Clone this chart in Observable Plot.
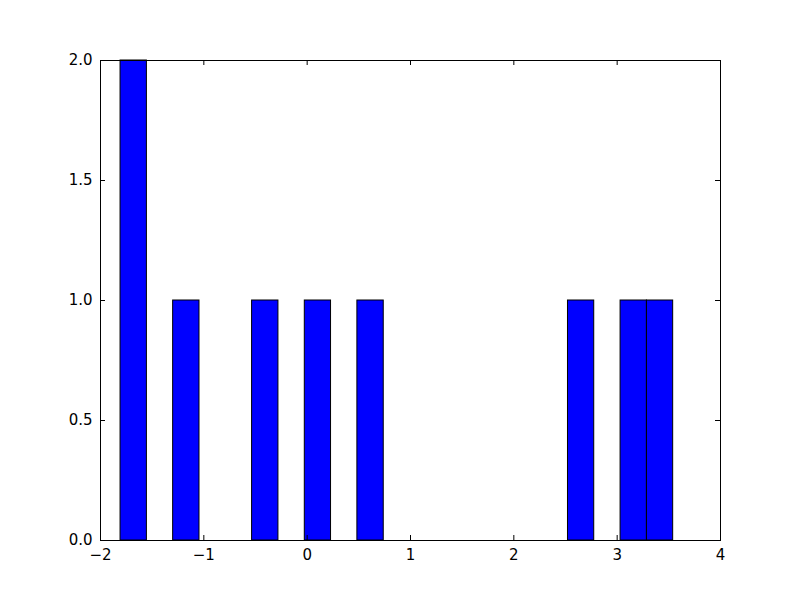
<!DOCTYPE html>
<html>
<head>
<meta charset="utf-8">
<script src="https://cdn.jsdelivr.net/npm/d3@7"></script>
<script src="https://cdn.jsdelivr.net/npm/@observablehq/plot@0.6"></script>
<style>
  html, body { margin: 0; padding: 0; background: white; }
</style>
</head>
<body>
<div id="chart"></div>
<script>
// Histogram bin edges (21 equal-width bins)
const binEdges = [-1.806, -1.551, -1.297, -1.042, -0.787, -0.533, -0.278, -0.023, 0.231, 0.486, 0.741,
                  0.996, 1.250, 1.505, 1.760, 2.014, 2.269, 2.524, 2.778, 3.033, 3.288, 3.542];
// Counts per bin
const counts = [2, 0, 1, 0, 0, 1, 0, 1, 0, 1, 0, 0, 0, 0, 0, 0, 0, 1, 0, 1, 1];
// Tick values
const xTicks = [-2, -1, 0, 1, 2, 3, 4];
const yTicks = [0, 0.5, 1.0, 1.5, 2.0];

const bins = counts.map((c, i) => ({x1: binEdges[i], x2: binEdges[i + 1], count: c}));

const W = 800, H = 600, mL = 100, mR = 80, mT = 60, mB = 60;
const innerH = H - mT - mB, innerW = W - mL - mR;
const tick = 5;

const chart = Plot.plot({
  width: W,
  height: H,
  marginLeft: mL,
  marginRight: mR,
  marginTop: mT,
  marginBottom: mB,
  style: {fontFamily: "DejaVu Sans", fontSize: "15px", background: "white", color: "black"},
  x: {domain: [-2, 4]},
  y: {domain: [0, 2]},
  marks: [
    Plot.rectY(bins, {x1: "x1", x2: "x2", y: "count", fill: "#0000ff", stroke: "black", strokeWidth: 1, inset: 0}),
    // inward ticks: bottom/top and left/right
    Plot.ruleX(xTicks, {insetTop: innerH - tick, stroke: "black"}),
    Plot.ruleX(xTicks, {insetBottom: innerH - tick, stroke: "black"}),
    Plot.ruleY(yTicks, {insetRight: innerW - tick, stroke: "black"}),
    Plot.ruleY(yTicks, {insetLeft: innerW - tick, stroke: "black"}),
    Plot.axisX(xTicks, {anchor: "bottom", tickSize: 0, tickPadding: 9, label: null, fontSize: 15}),
    Plot.axisY(yTicks, {anchor: "left", tickSize: 0, tickPadding: 8, label: null, tickFormat: d3.format(".1f"), fontSize: 15}),
    Plot.frame({stroke: "black", strokeWidth: 1})
  ]
});
document.getElementById("chart").appendChild(chart);
</script>
</body>
</html>
